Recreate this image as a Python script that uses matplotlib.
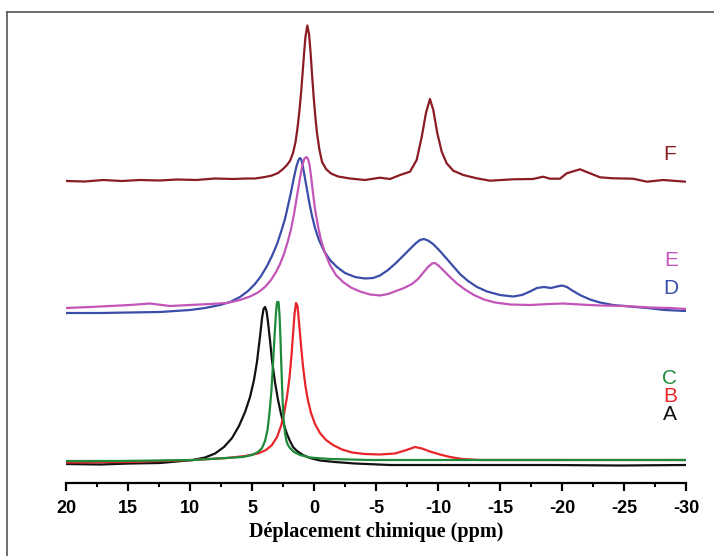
import numpy as np
import matplotlib.pyplot as plt
from matplotlib.lines import Line2D

# chemical shift (ppm) and stacked intensity (a.u.)
ppm_A = [20.0, 17.26, 14.84, 12.42, 9.76, 8.79, 7.98, 7.26, 6.61, 6.05, 5.56, 5.16,
         4.84, 4.60, 4.35, 4.19, 4.07, 3.95, 3.83, 3.71, 3.55, 3.39, 3.15, 2.90,
         2.66, 2.42, 2.18, 1.94, 1.69, 1.37, 0.89, 0.32, -0.48, -1.69, -3.31, -6.13,
         -10.97, -19.03, -24.68, -30.0]
int_A = [19, 18.5, 19.5, 20, 23, 25.5, 29.5, 36, 45, 57, 71, 86,
         103, 121, 147, 165, 174, 176, 172, 161, 143, 123, 101, 83,
         69, 58, 49, 42, 36, 32, 28, 25, 22.5, 21, 19.5, 18,
         18, 18, 17.5, 18]

ppm_B = [20.0, 14.84, 9.76, 7.02, 5.56, 4.52, 3.87, 3.39, 2.98, 2.66, 2.42, 2.18,
         1.98, 1.81, 1.69, 1.57, 1.45, 1.33, 1.21, 1.05, 0.89, 0.69, 0.48, 0.24,
         -0.08, -0.48, -0.97, -1.53, -2.26, -3.06, -4.11, -5.32, -6.53, -7.34, -8.15,
         -8.71, -9.35, -10.16, -10.97, -11.94, -13.39, -19.03, -30.0]
int_B = [20.5, 21, 23, 25, 27, 29.5, 33, 38, 46, 57, 69, 86,
         105, 128, 149, 169, 180, 177, 161, 138, 117, 97, 82, 70,
         59, 50, 43, 38, 33.5, 30.5, 29, 28.5, 29.5, 32.5, 36,
         34.5, 31.5, 28.5, 26, 24, 23, 23, 23]

ppm_C = [20.0, 15.65, 9.76, 5.73, 5.0, 4.52, 4.19, 3.95, 3.75, 3.59, 3.43, 3.31,
         3.19, 3.06, 2.98, 2.86, 2.78, 2.70, 2.62, 2.54, 2.46, 2.34, 2.22, 2.10,
         1.94, 1.61, 1.13, 0.32, -1.29, -4.52, -10.97, -19.03, -24.68, -30.0]
int_C = [22, 22, 23, 26, 28, 31, 35, 42, 53, 70, 93, 118,
         145, 171, 181, 181, 168, 143, 113, 85, 65, 50, 42, 38,
         35, 31, 28, 25.5, 24, 23, 23, 23, 23, 23]

ppm_D = [20.0, 17.26, 14.84, 12.42, 10.0, 8.79, 7.58, 6.77, 5.97, 5.32, 4.76, 4.27,
         3.79, 3.39, 2.98, 2.66, 2.34, 2.10, 1.85, 1.61, 1.41, 1.25, 1.13, 1.01,
         0.89, 0.73, 0.56, 0.36, 0.16, -0.08, -0.40, -0.81, -1.29, -1.85, -2.50,
         -3.31, -4.11, -4.76, -5.32, -5.97, -6.61, -7.26, -7.82, -8.23, -8.55, -8.87,
         -9.19, -9.60, -10.08, -10.65, -11.21, -11.77, -12.42, -13.15, -13.95, -15.0,
         -16.05, -16.77, -17.42, -17.98, -18.55, -19.11, -19.60, -20.0, -20.40, -20.89,
         -21.53, -22.26, -23.06, -24.11, -25.48, -26.85, -28.31, -30.0]
int_D = [170, 170, 170.5, 171, 173, 175, 178, 181, 186, 192, 199, 207,
         217, 227, 239, 251, 264, 277, 291, 306, 317, 323, 325, 323,
         316, 305, 293, 279, 267, 255, 243, 232, 223, 216, 210,
         206, 204.5, 205, 207.5, 213, 220, 228, 235, 240, 243, 244,
         242.5, 239, 233, 225, 217, 209, 202, 196, 191.5, 188,
         186.5, 188, 191.5, 195, 196, 195, 196.5, 197.5, 196, 192,
         187.5, 183.5, 180.5, 178, 176.5, 175, 173, 172]

ppm_E = [20.0, 18.06, 16.45, 14.84, 13.23, 11.61, 10.0, 8.39, 7.02, 5.97, 5.16, 4.52,
         3.95, 3.47, 3.06, 2.74, 2.42, 2.10, 1.85, 1.61, 1.37, 1.13, 0.93, 0.77,
         0.60, 0.48, 0.36, 0.24, 0.08, -0.08, -0.32, -0.56, -0.89, -1.29, -1.77,
         -2.34, -2.98, -3.71, -4.52, -5.32, -5.97, -6.61, -7.26, -7.90, -8.39, -8.79,
         -9.19, -9.52, -9.76, -10.08, -10.48, -10.97, -11.53, -12.18, -12.90, -13.71,
         -14.60, -15.81, -17.42, -19.03, -20.08, -21.45, -23.06, -25.08, -27.10,
         -28.71, -30.0]
int_E = [175, 176, 177, 178, 179.5, 177, 178, 179, 180, 183, 186.5, 190.5,
         196, 203, 211, 219, 229, 242, 254, 269, 287, 305, 318, 324.5,
         326, 324, 318, 307, 290, 274, 257, 243, 230, 218, 208,
         201, 195.5, 191.5, 188.5, 187.5, 189, 192, 195, 199, 204, 210,
         216, 219.5, 220, 217, 212, 206, 199.5, 193.5, 188, 183.5,
         180.5, 178.5, 178, 179, 179.5, 178.5, 177.5, 177, 175.5,
         175, 174]

ppm_F = [20.0, 18.5, 17.0, 15.5, 14.0, 12.5, 11.0, 9.5, 8.0, 6.5, 5.5, 4.76,
         3.95, 3.39, 2.90, 2.50, 2.18, 1.94, 1.69, 1.49, 1.33, 1.17, 1.05, 0.93,
         0.81, 0.69, 0.54, 0.40, 0.28, 0.16, 0.04, -0.08, -0.24, -0.44, -0.65,
         -0.97, -1.37, -1.94, -2.90, -4.11, -5.32, -6.13, -6.94, -7.74, -8.28, -8.69,
         -9.03, -9.35, -9.62, -9.94, -10.30, -10.70, -11.23, -12.04, -13.12, -14.19,
         -16.05, -17.66, -18.47, -19.03, -19.84, -20.38, -21.45, -22.26, -23.06,
         -24.11, -25.73, -26.85, -28.15, -30.0]
int_F = [302, 301.5, 303, 302, 303, 302.5, 303.5, 303, 304.5, 304, 304.5, 304.5,
         306, 307.5, 310, 314, 318, 322, 330, 341, 355, 373, 389, 408,
         428, 446, 457.5, 449, 431, 409, 388, 370, 350, 333, 321,
         314, 309.5, 306.5, 304.5, 303, 305.3, 304, 308, 311.3, 323, 346.3,
         370, 384, 373, 350, 331.3, 319.7, 312.3, 308, 304.7, 302.3,
         303.7, 304, 306.3, 304.3, 304.3, 309.7, 313.7, 309.7, 305.7,
         304.7, 304.3, 301.3, 303, 301.3]

names = ['A', 'B', 'C', 'D', 'E', 'F']
colors = ['#111111', '#e8262a', '#1e8b3a', '#3a4da8', '#c455b8', '#8b1c24']
series = [(ppm_A, int_A), (ppm_B, int_B), (ppm_C, int_C),
          (ppm_D, int_D), (ppm_E, int_E), (ppm_F, int_F)]
label_pos = [(-28.7, 68), (-28.7, 86), (-28.7, 104),
             (-28.8, 194), (-28.8, 223), (-28.7, 328)]

fig = plt.figure(figsize=(7.14, 5.56), dpi=100)
ax = fig.add_axes([66 / 714, 73 / 556, 620 / 714, 468 / 556])

for (x, y), c in zip(series, colors):
    ax.plot(x, y, color=c, lw=1.6, solid_joinstyle='round')

for name, c, (lx, ly) in zip(names, colors, label_pos):
    ax.text(lx, ly, name, color=c, fontsize=15, family='Liberation Sans',
            ha='center', va='center')

ax.set_xlim(20, -30)
ax.set_ylim(0, 468)
ax.set_xticks(np.arange(20, -31, -5))
ax.set_xticks(np.arange(17.5, -30, -5), minor=True)
ax.set_xticklabels([str(v) for v in range(20, -31, -5)])
for s in ['left', 'right', 'top']:
    ax.spines[s].set_visible(False)
ax.spines['bottom'].set_linewidth(1.6)
ax.set_yticks([])
ax.tick_params(axis='x', which='major', direction='out', length=6, width=1.6, pad=6)
ax.tick_params(axis='x', which='minor', direction='out', length=3, width=1.4)
for t in ax.get_xticklabels():
    t.set_family('Liberation Sans')
    t.set_fontweight('bold')
    t.set_fontsize(13)
ax.set_xlabel('Déplacement chimique (ppm)', family='Liberation Serif',
              fontweight='bold', fontsize=14.5, labelpad=4)

# outer frame of the original figure
fig.add_artist(Line2D([7 / 714, 7 / 714], [0, 1 - 12 / 556], color='#555555', lw=1.2))
fig.add_artist(Line2D([7 / 714, 1], [1 - 12 / 556, 1 - 12 / 556], color='#555555', lw=1.2))

fig.savefig('out.png', dpi=100)
